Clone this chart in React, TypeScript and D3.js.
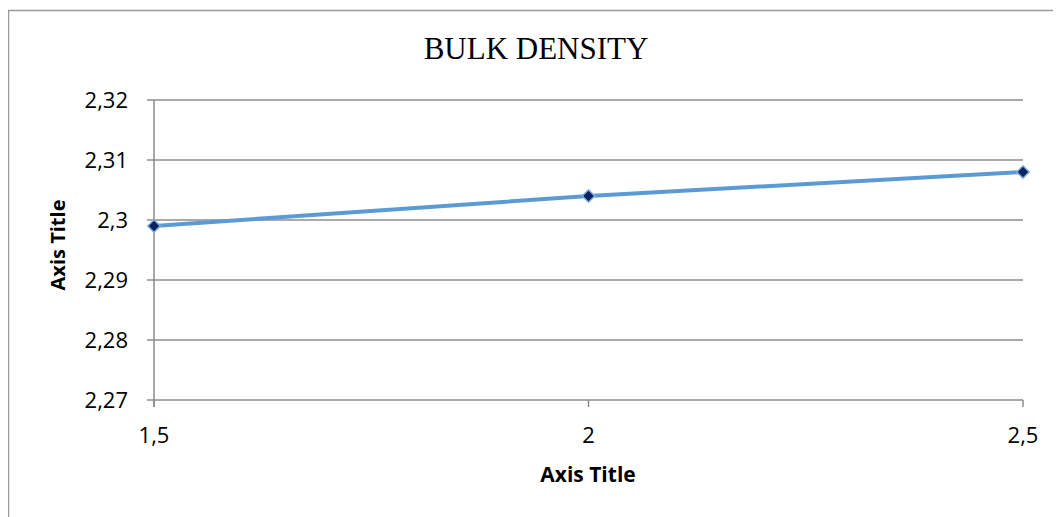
import React from "react";
import * as d3 from "d3";

// Bulk density measured at three points along the x range
const xValues = [1.5, 2, 2.5];
const densityValues = [2.299, 2.304, 2.308];
const yTicks = [2.27, 2.28, 2.29, 2.3, 2.31, 2.32];
const xTicks = [1.5, 2, 2.5];
const chartTitle = "BULK DENSITY";
const xAxisTitle = "Axis Title";
const yAxisTitle = "Axis Title";

const W = 1053;
const H = 509;
const plot = { left: 146, right: 1015, top: 92, bottom: 392 };

const locale = d3.formatLocale({
  decimal: ",",
  thousands: ".",
  grouping: [3],
  currency: ["", " €"],
});
const fmt = locale.format(".2~f");

const sansFont = "'Open Sans', 'Liberation Sans', sans-serif";
const gridColor = "#8c8c8c";
const lineColor = "#5b9bd5";
const markerFill = "#0b2461";

export default function App() {
  const x = d3.scaleLinear().domain([1.5, 2.5]).range([plot.left, plot.right]);
  const y = d3.scaleLinear().domain([2.27, 2.32]).range([plot.bottom, plot.top]);

  const pts = xValues.map((xv, i) => [xv, densityValues[i]] as [number, number]);
  const linePath = d3
    .line<[number, number]>()
    .x((d) => x(d[0]))
    .y((d) => y(d[1]))(pts) as string;

  const diamond = d3.symbol().type(d3.symbolDiamond2).size(100)() as string;

  return (
    <svg width={W} height={H} style={{ display: "block" }}>
      <rect x={0.5} y={2.5} width={2000} height={2000} fill="#fff" stroke="#9a9a9a" strokeWidth={1.5} />

      <text
        x={528}
        y={51}
        textAnchor="middle"
        fontFamily="'Liberation Serif', 'Times New Roman', serif"
        fontSize={31}
        fill="#000"
      >
        {chartTitle}
      </text>

      {/* horizontal gridlines with their tick marks and labels */}
      {yTicks.map((t) => (
        <g key={t}>
          <line
            x1={plot.left - 7}
            x2={plot.right}
            y1={y(t)}
            y2={y(t)}
            stroke={gridColor}
            strokeWidth={1.5}
          />
          <text
            x={120}
            y={y(t)}
            dy="0.36em"
            textAnchor="end"
            fontFamily={sansFont}
            fontSize={22}
            fill="#000"
          >
            {fmt(t)}
          </text>
        </g>
      ))}

      {/* vertical axis line */}
      <line x1={plot.left} x2={plot.left} y1={plot.top} y2={plot.bottom + 7} stroke={gridColor} strokeWidth={1.5} />

      {/* x ticks and labels */}
      {xTicks.map((t) => (
        <g key={t}>
          <line x1={x(t)} x2={x(t)} y1={plot.bottom} y2={plot.bottom + 7} stroke={gridColor} strokeWidth={1.5} />
          <text
            x={x(t)}
            y={435}
            textAnchor="middle"
            fontFamily={sansFont}
            fontSize={22}
            fill="#000"
          >
            {fmt(t)}
          </text>
        </g>
      ))}

      <path d={linePath} fill="none" stroke={lineColor} strokeWidth={4} strokeLinejoin="round" />
      {pts.map((p, i) => (
        <path
          key={i}
          d={diamond}
          transform={`translate(${x(p[0])},${y(p[1])})`}
          fill={markerFill}
          stroke="#7fb0e0"
          strokeWidth={1.5}
        />
      ))}

      <text
        x={580}
        y={474}
        textAnchor="middle"
        fontFamily={sansFont}
        fontWeight="bold"
        fontSize={21}
        fill="#000"
      >
        {xAxisTitle}
      </text>
      <text
        transform={`translate(57,237) rotate(-90)`}
        textAnchor="middle"
        fontFamily={sansFont}
        fontWeight="bold"
        fontSize={20}
        fill="#000"
      >
        {yAxisTitle}
      </text>
    </svg>
  );
}
